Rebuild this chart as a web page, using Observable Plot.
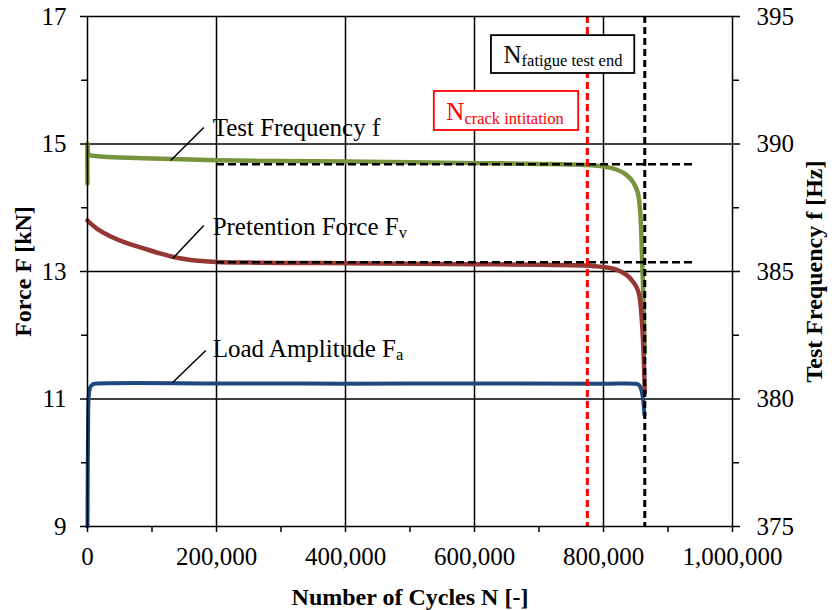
<!DOCTYPE html>
<html><head><meta charset="utf-8">
<script src="https://cdn.jsdelivr.net/npm/d3@7"></script>
<script src="https://cdn.jsdelivr.net/npm/@observablehq/plot@0.6"></script>
<style>body{margin:0;background:#fff}</style>
</head><body><div id="chart"></div>
<script>
// ---------- data ----------
// Test frequency f [Hz] (right axis)
const freqCycles = [0, 0, 1500, 5000, 20000, 50000, 100000, 132000, 200000, 300000, 400000, 500000, 600000, 700000, 770000, 800000, 820000, 835000, 846000, 853000, 857000, 859500, 862000, 864000];
const freqHz     = [388.45, 390.0, 389.6, 389.55, 389.51, 389.47, 389.43, 389.41, 389.36, 389.33, 389.31, 389.28, 389.25, 389.22, 389.18, 389.12, 389.0, 388.8, 388.5, 388.1, 387.3, 385.8, 383.8, 381.8];
// Pretention force Fv [kN]
const fvCycles = [0, 5000, 15000, 36000, 60000, 88000, 110000, 130000, 160000, 200000, 250000, 300000, 400000, 500000, 600000, 700000, 770000, 800000, 820000, 835000, 845000, 852000, 856000, 859000, 862000, 864000];
const fvForce  = [13.8, 13.75, 13.67, 13.55, 13.45, 13.36, 13.29, 13.235, 13.18, 13.15, 13.14, 13.135, 13.13, 13.12, 13.115, 13.105, 13.095, 13.07, 13.03, 12.95, 12.85, 12.74, 12.6, 12.3, 11.76, 11.09];
// Load amplitude Fa [kN]
const faCycles = [0, 800, 2000, 4000, 8000, 12000, 200000, 400000, 600000, 800000, 848000, 855000, 859000, 861500, 863500];
const faForce  = [9.0, 10.5, 11.05, 11.18, 11.23, 11.24, 11.245, 11.24, 11.245, 11.24, 11.24, 11.22, 11.13, 10.98, 10.75];

// reference lines
const crackInitiationN = 775000;
const fatigueEndN = 864000;
const freqPlateauHz = 389.21;
const fvPlateau = 13.146;
const plateauFromN = 200000;
const plateauToN = 940000;

// ticks
const xTicks = [0, 200000, 400000, 600000, 800000, 1000000];
const xMinorTicks = [100000, 300000, 500000, 700000, 900000];
const forceTicks = [9, 11, 13, 15, 17];
const forceMinorTicks = [10, 12, 14, 16];
const freqTicks = [375, 380, 385, 390, 395];
const freqMinorTicks = [377.5, 382.5, 387.5, 392.5];

// curve labels (data coordinates)
const labelText = ["Test Frequency f", "Pretention Force F", "Load Amplitude F"];
const labelSub  = ["", "v", "a"];
const labelN    = [194000, 194000, 194000];
const labelF    = [15.133, 13.565, 11.651];
const leaderN1  = [129000, 132000, 132000];
const leaderF1  = [14.741, 13.204, 11.259];
const leaderN2  = [180300, 180300, 183400];
const leaderF2  = [15.259, 13.722, 11.761];

// boxed labels
const boxText = ["N", "N"];
const boxSub  = ["fatigue test end", "crack intitation"];
const boxN1 = [626300, 537700];
const boxN2 = [848500, 761500];
const boxF1 = [16.70, 15.824];
const boxF2 = [16.106, 15.212];
const boxTextN = [645000, 556300];
const boxTextF = [16.278, 15.369];

// ---------- helpers ----------
const hzToF = hz => 9 + (hz - 375) * (8 / 20);
const fToHz = f => 375 + (f - 9) * (20 / 8);

const green = "#77933C", red = "#953735", blue = "#1F497D";

const freqData = freqCycles.map((n, i) => ({n, f: hzToF(freqHz[i])}));
const fvData = fvCycles.map((n, i) => ({n, f: fvForce[i]}));
const faData = faCycles.map((n, i) => ({n, f: faForce[i]}));
const labels = labelText.map((t, i) => ({t, n: labelN[i], f: labelF[i]}));
const leaders = leaderN1.map((n, i) => ({n1: n, f1: leaderF1[i], n2: leaderN2[i], f2: leaderF2[i]}));
const boxes = boxText.map((t, i) => ({t, n1: boxN1[i], n2: boxN2[i], f1: boxF1[i], f2: boxF2[i], tn: boxTextN[i], tf: boxTextF[i]}));

const font = "'Liberation Serif', 'Times New Roman', serif";

const plot = Plot.plot({
  width: 832, height: 610,
  marginLeft: 87, marginRight: 100, marginTop: 16, marginBottom: 84,
  x: {domain: [0, 1000000], label: null},
  y: {domain: [9, 17], label: null},
  style: {fontFamily: font, fontSize: "25px", color: "black", background: "white", overflow: "visible"},
  marks: [
    Plot.ruleY(forceTicks.slice(1, -1), {stroke: "black", strokeWidth: 1.5}),
    Plot.ruleX(xTicks.slice(1, -1), {stroke: "black", strokeWidth: 1.5}),
    Plot.line(freqData, {x: "n", y: "f", stroke: green, strokeWidth: 4.5, curve: "catmull-rom", strokeLinejoin: "round"}),
    Plot.line(fvData, {x: "n", y: "f", stroke: red, strokeWidth: 4.5, curve: "catmull-rom", strokeLinejoin: "round"}),
    Plot.line(faData, {x: "n", y: "f", stroke: blue, strokeWidth: 4, curve: "catmull-rom", strokeLinejoin: "round"}),
    Plot.ruleY([hzToF(freqPlateauHz), fvPlateau], {x1: plateauFromN, x2: plateauToN, stroke: "black", strokeWidth: 2.5, strokeDasharray: "8,4"}),
    Plot.ruleX([crackInitiationN], {stroke: "#FF0000", strokeWidth: 3, strokeDasharray: "7,4"}),
    Plot.ruleX([fatigueEndN], {stroke: "black", strokeWidth: 3, strokeDasharray: "7,4"}),
    Plot.rect(boxes, {x1: "n1", x2: "n2", y1: "f1", y2: "f2", fill: "white", stroke: (d, i) => i === 1 ? "#FF0000" : "black", strokeWidth: 1.8}),
    Plot.text(boxes, {x: "tn", y: "tf", text: "t", textAnchor: "start", lineAnchor: "bottom", fontSize: 25, fill: (d, i) => i === 1 ? "#FF0000" : "black", ariaDescription: "box labels"}),
    Plot.link(leaders, {x1: "n1", y1: "f1", x2: "n2", y2: "f2", stroke: "black", strokeWidth: 1.5}),
    Plot.text(labels, {x: "n", y: "f", text: "t", textAnchor: "start", lineAnchor: "bottom", fontSize: 25, fill: "black", ariaDescription: "curve labels"}),
    Plot.frame({stroke: "black", strokeWidth: 1.5}),
    Plot.axisX({ticks: xTicks, tickFormat: d3.format(","), tickSize: 6, tickPadding: 15, fontSize: 25, strokeWidth: 1.5, label: null}),
    Plot.axisX({ticks: xMinorTicks, tickFormat: () => "", tickSize: 6, strokeWidth: 1.5, label: null}),
    Plot.axisY({anchor: "left", ticks: forceTicks, tickSize: 7, tickPadding: 14, fontSize: 25, strokeWidth: 1.5, label: null}),
    Plot.axisY({anchor: "left", ticks: forceMinorTicks, tickFormat: () => "", tickSize: 6, strokeWidth: 1.5, label: null}),
    Plot.axisY({anchor: "right", ticks: freqTicks.map(hzToF), tickFormat: d => String(Math.round(fToHz(d))), tickSize: 7, tickPadding: 17, fontSize: 25, strokeWidth: 1.5, label: null}),
    Plot.axisY({anchor: "right", ticks: freqMinorTicks.map(hzToF), tickFormat: () => "", tickSize: 6, strokeWidth: 1.5, label: null}),
    Plot.text(["Number of Cycles N [-]"], {frameAnchor: "bottom", dy: 78, textAnchor: "middle", lineAnchor: "bottom", fontWeight: "bold", fontSize: 24}),
    Plot.text(["Force F [kN]"], {frameAnchor: "left", dx: -57, rotate: -90, textAnchor: "middle", lineAnchor: "bottom", fontWeight: "bold", fontSize: 24}),
    Plot.text(["Test Frequency f [Hz]"], {frameAnchor: "right", dx: 89, rotate: -90, textAnchor: "middle", lineAnchor: "bottom", fontWeight: "bold", fontSize: 24})
  ]
});

d3.select(plot).selectAll('g[aria-description="curve labels"] text').each(function (_, i) {
  if (labelSub[i]) d3.select(this).append("tspan").attr("font-size", 16.5).attr("dy", 3).text(labelSub[i]);
});
d3.select(plot).selectAll('g[aria-description="box labels"] text').each(function (_, i) {
  d3.select(this).append("tspan").attr("font-size", 16.5).attr("dy", 3.5).text(boxSub[i]);
});

document.getElementById("chart").appendChild(plot);
</script></body></html>
